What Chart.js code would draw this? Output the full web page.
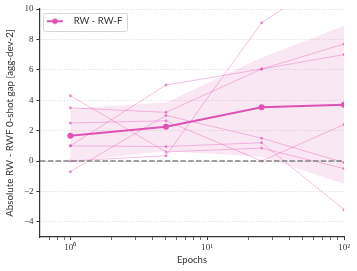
<!DOCTYPE html>
<html>
<head>
<meta charset="utf-8">
<script src="https://cdn.jsdelivr.net/npm/chart.js@4.4.1/dist/chart.umd.min.js"></script>
<style>
  html, body { margin: 0; padding: 0; background: #fff; }
  #wrap { width: 357px; height: 271px; }
</style>
</head>
<body>
<div id="wrap"><canvas id="gap-chart" width="357" height="271"></canvas></div>
<script>
// data
var epochs = [1, 5, 25, 100];
var run1 = [4.3, 0.6, 0.85, -0.5];
var run2 = [3.5, 3.2, 6.05, 7.7];
var run3 = [2.5, 2.65, 0.0, 2.4];
var run4 = [1.0, 5.0, 6.05, 7.0];
var run5 = [1.0, 0.95, 1.2, -3.2];
var run6 = [0.0, 0.35, 9.1, 12.6];
var run7 = [-0.7, 3.0, 1.5, -0.1];
var meanGap = [1.66, 2.25, 3.54, 3.7];
var bandUpper = [3.45, 3.85, 6.8, 8.9];
var bandLower = [-0.05, 0.65, 0.28, -1.5];
var zeroLine = [0, 0];
var xRange = [0.6, 100];
var yTicks = [-4, -2, 0, 2, 4, 6, 8, 10];
var xTicks = [0.7, 0.8, 0.9, 1, 2, 3, 4, 5, 6, 7, 8, 9, 10, 20, 30, 40, 50, 60, 70, 80, 90, 100];
var xTickLabels = { 1: '10\u2070', 10: '10\u00b9', 100: '10\u00b2' };

var pink = 'rgb(222, 82, 180)';
var pinkLight = 'rgba(222, 82, 180, 0.45)';
var pinkBand = 'rgba(222, 82, 180, 0.14)';
var axisGrey = '#333333';
var sans = 'Lato';
var serif = 'Liberation Serif';

function pts(ys) {
  return ys.map(function(y, i) { return { x: epochs[i], y: y }; });
}

// legend swatch: line with a dot
var swatch = document.createElement('canvas');
swatch.width = 22;
swatch.height = 8;
(function() {
  var c = swatch.getContext('2d');
  c.strokeStyle = pink;
  c.lineWidth = 2;
  c.beginPath();
  c.moveTo(0, 4);
  c.lineTo(16, 4);
  c.stroke();
  c.fillStyle = pink;
  c.beginPath();
  c.arc(8, 4, 2.8, 0, Math.PI * 2);
  c.fill();
})();

var legendFrame = {
  id: 'legendFrame',
  afterDraw: function(chart) {
    var lg = chart.legend;
    if (!lg || !lg.legendHitBoxes || !lg.legendHitBoxes.length) return;
    var h = lg.legendHitBoxes[0];
    var ctx = chart.ctx;
    ctx.save();
    ctx.strokeStyle = '#d6d6d6';
    ctx.lineWidth = 1;
    ctx.beginPath();
    ctx.roundRect(Math.round(h.left - 4) + 0.5, Math.round(h.top - 4) + 0.5, Math.round(h.width + 9), Math.round(h.height + 8), 2);
    ctx.stroke();
    ctx.restore();
  }
};

var runs = [run1, run2, run3, run4, run5, run6, run7];
var datasets = [
  {
    label: 'RW - RW-F',
    data: pts(meanGap),
    borderColor: pink,
    backgroundColor: pink,
    borderWidth: 2,
    pointRadius: 3,
    pointBorderWidth: 0,
    order: 0
  },
  {
    label: 'zero',
    data: [{ x: xRange[0], y: zeroLine[0] }, { x: xRange[1], y: zeroLine[1] }],
    borderColor: '#808080',
    borderWidth: 1.5,
    borderDash: [5.5, 2.3],
    pointRadius: 0,
    order: 1
  },
  {
    label: 'upper',
    data: pts(bandUpper),
    borderWidth: 0,
    pointRadius: 0,
    fill: false,
    order: 4
  },
  {
    label: 'lower',
    data: pts(bandLower),
    borderWidth: 0,
    pointRadius: 0,
    backgroundColor: pinkBand,
    fill: '-1',
    order: 3
  }
];
runs.forEach(function(r, i) {
  datasets.push({
    label: 'run' + (i + 1),
    data: pts(r),
    borderColor: pinkLight,
    backgroundColor: 'rgba(222, 82, 180, 0.6)',
    borderWidth: 0.8,
    pointRadius: 1.5,
    pointBorderWidth: 0,
    order: 2
  });
});

new Chart(document.getElementById('gap-chart'), {
  type: 'line',
  data: { datasets: datasets },
  plugins: [legendFrame],
  options: {
    responsive: false,
    animation: false,
    events: [],
    layout: { padding: { top: 9, right: 13, left: 0, bottom: 0 } },
    plugins: {
      tooltip: { enabled: false },
      legend: {
        position: 'chartArea',
        align: 'start',
        // empty title only pushes the entry down inside the plot
        title: { display: true, text: '', font: { size: 9.5, lineHeight: 1 }, padding: 0 },
        labels: {
          filter: function(item) { return item.datasetIndex === 0; },
          usePointStyle: true,
          pointStyle: swatch,
          pointStyleWidth: 22,
          padding: 7,
          color: axisGrey,
          font: { family: sans, size: 9.5 }
        }
      }
    },
    scales: {
      x: {
        type: 'logarithmic',
        min: xRange[0],
        max: xRange[1],
        afterBuildTicks: function(scale) {
          scale.ticks = xTicks.map(function(v) { return { value: v }; });
        },
        afterFit: function(scale) { scale.height = 34; },
        ticks: {
          autoSkip: false,
          maxRotation: 0,
          padding: 2,
          color: axisGrey,
          font: { family: serif, size: 9 },
          callback: function(value) { return xTickLabels[value] || ''; }
        },
        grid: {
          drawOnChartArea: false,
          drawTicks: true,
          tickLength: 3,
          tickColor: axisGrey,
          tickWidth: function(ctx) { return xTickLabels[ctx.tick && ctx.tick.value] ? 1 : 0.7; }
        },
        border: { color: axisGrey, width: 1.2 },
        title: {
          display: true,
          text: 'Epochs',
          color: axisGrey,
          font: { family: sans, size: 9.5 },
          padding: { top: 0, bottom: 5 }
        }
      },
      y: {
        min: -5,
        max: 10,
        afterBuildTicks: function(scale) {
          scale.ticks = yTicks.map(function(v) { return { value: v }; });
        },
        afterFit: function(scale) { scale.width = 40; },
        ticks: {
          padding: 3,
          color: axisGrey,
          font: { family: serif, size: 9 },
          callback: function(value) { return value < 0 ? '\u2212' + Math.abs(value) : String(value); }
        },
        grid: {
          color: '#cfcfcf',
          lineWidth: 0.8,
          drawTicks: true,
          tickLength: 3.5,
          tickColor: axisGrey,
          tickWidth: 1
        },
        border: { color: axisGrey, width: 1.2, dash: [1, 2] },
        title: {
          display: true,
          text: 'Absolute RW - RWF 0-shot gap [agg-dev-2]',
          color: axisGrey,
          font: { family: sans, size: 9.8 },
          padding: { top: 4, bottom: 0 }
        }
      }
    }
  }
});
</script>
</body>
</html>
